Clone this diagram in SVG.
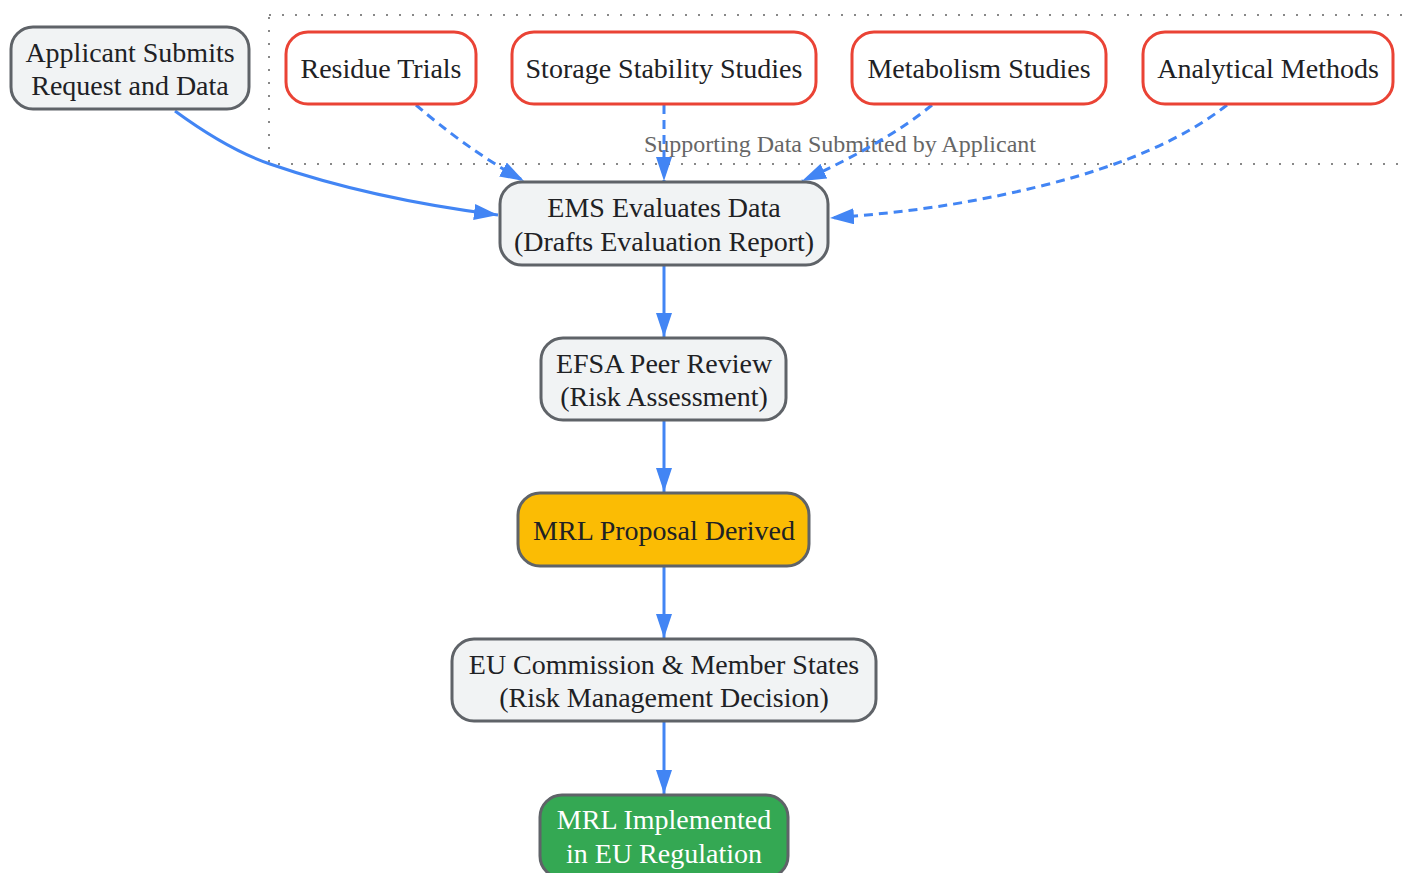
<svg xmlns="http://www.w3.org/2000/svg" width="1402" height="873" viewBox="0 0 1402 873">
<defs>
<style>
.n rect{stroke-width:3}
.g rect{fill:#f1f3f4;stroke:#5f6368}
.r rect{fill:#ffffff;stroke:#ea4335}
.y rect{fill:#fbbc04;stroke:#5f6368}
.gr rect{fill:#34a853;stroke:#5f6368}
text{font-family:"Liberation Serif","Times New Roman",serif;font-size:28px;fill:#202124;text-anchor:middle}
.gr text{fill:#ffffff}
.e{fill:none;stroke:#4285f4;stroke-width:3}
.d{stroke-dasharray:9 6}
.cl{fill:none;stroke:#888;stroke-width:2;stroke-dasharray:2 11}
.cl-t{font-size:24px;fill:#666}
</style>
<marker id="ah" viewBox="0 0 24 16" refX="24" refY="8" markerWidth="24" markerHeight="16" markerUnits="userSpaceOnUse" orient="auto">
<path d="M0,0 L24,8 L0,16 Z" fill="#4285f4"/>
</marker>
</defs>
<rect width="1402" height="873" fill="#ffffff"/>
<g id="cluster">
<rect class="cl" x="269" y="15" width="1140" height="149"/>
<text class="cl-t" x="840" y="152">Supporting Data Submitted by Applicant</text>
</g>
<g id="connectors">
<path class="e" d="M175,111 C205,133 235,152 270,164 C345,190 420,205 498,215" marker-end="url(#ah)"/>
<path class="e d" d="M416,105 C445,130 482,158 524,181" marker-end="url(#ah)"/>
<path class="e d" d="M664,105 L664,181" marker-end="url(#ah)"/>
<path class="e d" d="M932,105 C902,130 855,157 802,181" marker-end="url(#ah)"/>
<path class="e d" d="M1227,105 C1185,138 1125,165 1045,185 C965,205 900,213 830,218" marker-end="url(#ah)"/>
<path class="e" d="M664,266 L664,337" marker-end="url(#ah)"/>
<path class="e" d="M664,421 L664,492" marker-end="url(#ah)"/>
<path class="e" d="M664,567 L664,638" marker-end="url(#ah)"/>
<path class="e" d="M664,722 L664,794" marker-end="url(#ah)"/>
</g>
<g id="applicant" class="n g">
<rect x="11" y="27" width="238" height="82" rx="22"/>
<text x="130" y="62">Applicant Submits</text>
<text x="130" y="95">Request and Data</text>
</g>
<g id="residue" class="n r">
<rect x="286" y="32" width="190" height="72" rx="22"/>
<text x="381" y="78">Residue Trials</text>
</g>
<g id="storage" class="n r">
<rect x="512" y="32" width="304" height="72" rx="22"/>
<text x="664" y="78">Storage Stability Studies</text>
</g>
<g id="metabolism" class="n r">
<rect x="852" y="32" width="254" height="72" rx="22"/>
<text x="979" y="78">Metabolism Studies</text>
</g>
<g id="analytical" class="n r">
<rect x="1143" y="32" width="250" height="72" rx="22"/>
<text x="1268" y="78">Analytical Methods</text>
</g>
<g id="ems" class="n g">
<rect x="500" y="182" width="328" height="83" rx="22"/>
<text x="664" y="217">EMS Evaluates Data</text>
<text x="664" y="251">(Drafts Evaluation Report)</text>
</g>
<g id="efsa" class="n g">
<rect x="541" y="338" width="245" height="82" rx="22"/>
<text x="664" y="373">EFSA Peer Review</text>
<text x="664" y="406">(Risk Assessment)</text>
</g>
<g id="proposal" class="n y">
<rect x="518" y="493" width="291" height="73" rx="22"/>
<text x="664" y="540">MRL Proposal Derived</text>
</g>
<g id="commission" class="n g">
<rect x="452" y="639" width="424" height="82" rx="22"/>
<text x="664" y="674">EU Commission &amp; Member States</text>
<text x="664" y="707">(Risk Management Decision)</text>
</g>
<g id="implemented" class="n gr">
<rect x="540" y="795" width="248" height="83" rx="22"/>
<text x="664" y="829">MRL Implemented</text>
<text x="664" y="863">in EU Regulation</text>
</g>
</svg>
